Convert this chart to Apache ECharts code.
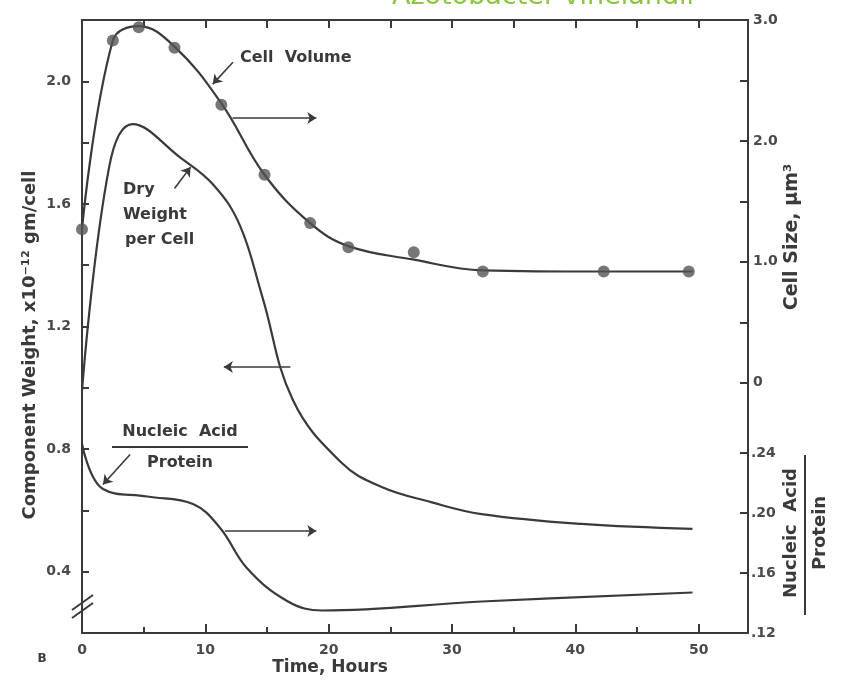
<!DOCTYPE html>
<html>
<head>
<meta charset="utf-8">
<script src="https://cdn.jsdelivr.net/npm/echarts@6/dist/echarts.min.js"></script>
<style>
html, body { margin: 0; padding: 0; background: #fff; }
#chart { width: 850px; height: 687px; }
</style>
</head>
<body>
<div id="chart"></div>
<script>
// ticks / labels
var xLabelValues = [0, 10, 20, 30, 40, 50]
var xMinorTicks = [5, 15, 25, 35, 45]
var leftLabelValues = [0.4, 0.8, 1.2, 1.6, 2.0]
var leftTickValues = [0.4, 0.6, 0.8, 1.0, 1.2, 1.4, 1.6, 1.8, 2.0]
var cellLabelValues = [0, 1, 2, 3]
var cellTickValues = [0, 0.5, 1, 1.5, 2, 2.5]
var ratioLabelValues = [0.12, 0.16, 0.20, 0.24]

// cell volume, µm3 (measured points)
var cellPoints = [
  [0, 1.27], [2.5, 2.83], [4.6, 2.94], [7.5, 2.77], [11.3, 2.30], [14.8, 1.72],
  [18.5, 1.32], [21.6, 1.12], [26.9, 1.08], [32.5, 0.92], [42.3, 0.92], [49.2, 0.92]
]
// cell volume fitted curve
var cellCurve = [
  [0, 1.27], [2.5, 2.83], [4.6, 2.95], [7.5, 2.78], [11.3, 2.31],
  [14.8, 1.72], [18.5, 1.32], [21.6, 1.13],
  [26.8, 1.02], [32.5, 0.93], [42.3, 0.92], [49.5, 0.92]
]
// dry weight per cell, x10^-12 gm/cell
var dryWeight = [
  [0, 0.99], [2.2, 1.72], [4.1, 1.86], [8.0, 1.75], [10.7, 1.66], [12.8, 1.53],
  [14.6, 1.30], [17.1, 0.96], [21.0, 0.757], [24.2, 0.678],
  [28.3, 0.627], [32.4, 0.588], [40.5, 0.556], [49.5, 0.54]
]
// nucleic acid / protein
var ratio = [
  [0, 0.246], [1.7, 0.216], [5.3, 0.211], [9.0, 0.206],
  [11.2, 0.190], [13.4, 0.163], [16.7, 0.141], [19.5, 0.135], [32.4, 0.141], [49.5, 0.147]
]

var ink = '#3a3a3a'
var font = 'DejaVu Sans'

var myChart = echarts.init(document.getElementById('chart'))

var arrowStyle = {
  silent: true,
  symbol: ['none', 'arrow'],
  symbolSize: 9,
  label: { show: false },
  lineStyle: { color: ink, width: 1.6, type: 'solid' }
}

var lineBase = {
  type: 'line',
  showSymbol: false,
  smooth: 0.4,
  lineStyle: { color: ink, width: 2.2 },
  z: 3
}

var tickLabel = { color: '#4a4a4a', fontFamily: font, fontWeight: 'bold', fontSize: 14 }
var axisLineStyle = { show: true, onZero: false, lineStyle: { color: ink, width: 2 } }

var option = {
  animation: false,
  backgroundColor: '#fff',
  grid: { left: 82, right: 102, top: 20, bottom: 54 },
  xAxis: [
    {
      type: 'value', position: 'bottom', min: 0, max: 54,
      axisLine: axisLineStyle,
      axisTick: { show: true, inside: true, length: 9, customValues: xLabelValues, lineStyle: { color: ink, width: 2 } },
      axisLabel: Object.assign({ customValues: xLabelValues, margin: 10 }, tickLabel),
      splitLine: { show: false }
    },
    {
      type: 'value', position: 'bottom', min: 0, max: 54,
      axisLine: { show: false, onZero: false },
      axisTick: { show: true, inside: true, length: 6, customValues: xMinorTicks, lineStyle: { color: ink, width: 2 } },
      axisLabel: { show: false },
      splitLine: { show: false }
    },
    {
      type: 'value', position: 'top', min: 0, max: 54,
      axisLine: axisLineStyle,
      axisTick: { show: true, inside: true, length: 8, customValues: xLabelValues.concat(xMinorTicks), lineStyle: { color: ink, width: 2 } },
      axisLabel: { show: false },
      splitLine: { show: false }
    }
  ],
  yAxis: [
    {
      type: 'value', position: 'left', min: 0.2, max: 2.2,
      axisLine: axisLineStyle,
      axisTick: { show: true, inside: true, length: 7, customValues: leftTickValues, lineStyle: { color: ink, width: 2 } },
      axisLabel: Object.assign({ customValues: leftLabelValues, margin: 11, formatter: function (v) { return v.toFixed(1) } }, tickLabel),
      splitLine: { show: false }
    },
    {
      type: 'value', position: 'right', min: -2.07, max: 3.0,
      axisLine: axisLineStyle,
      axisTick: { show: true, inside: true, length: 8, customValues: cellTickValues, lineStyle: { color: ink, width: 2 } },
      axisLabel: Object.assign({ customValues: cellLabelValues, margin: 5, formatter: function (v) { return v === 0 ? '0' : v.toFixed(1) } }, tickLabel),
      splitLine: { show: false }
    },
    {
      type: 'value', position: 'right', min: 0.12, max: 0.5287,
      axisLine: { show: false, onZero: false },
      axisTick: { show: true, inside: true, length: 8, customValues: ratioLabelValues.slice(1), lineStyle: { color: ink, width: 2 } },
      axisLabel: Object.assign({ customValues: ratioLabelValues, margin: 3, formatter: function (v) { return v.toFixed(2).replace(/^0/, '') } }, tickLabel),
      splitLine: { show: false }
    }
  ],
  series: [
    Object.assign({}, lineBase, {
      name: 'Cell Volume', yAxisIndex: 1, data: cellCurve,
      markLine: Object.assign({}, arrowStyle, {
        data: [
          [{ coord: [12.24, 2.65] }, { coord: [10.6, 2.47] }],
          [{ coord: [12.2, 2.19] }, { coord: [19.0, 2.19] }]
        ]
      })
    }),
    {
      name: 'Cell Volume points', type: 'scatter', yAxisIndex: 1, data: cellPoints,
      symbol: 'circle', symbolSize: 12, clip: false,
      itemStyle: { color: '#555' }, z: 4
    },
    Object.assign({}, lineBase, {
      name: 'Dry Weight per Cell', yAxisIndex: 0, data: dryWeight,
      markLine: Object.assign({}, arrowStyle, {
        data: [
          [{ coord: [7.5, 1.65] }, { coord: [8.8, 1.72] }],
          [{ coord: [16.9, 1.068] }, { coord: [11.5, 1.068] }]
        ]
      })
    }),
    Object.assign({}, lineBase, {
      name: 'Nucleic Acid / Protein', yAxisIndex: 2, data: ratio,
      markLine: Object.assign({}, arrowStyle, {
        data: [
          [{ coord: [3.9, 0.239] }, { coord: [1.7, 0.219] }],
          [{ coord: [11.6, 0.188] }, { coord: [19.0, 0.188] }]
        ]
      })
    })
  ],
  graphic: [
    // title cut at the top of the scan
    { type: 'text', x: 543, y: -3, style: { text: 'Azotobacter vinelandii', fill: '#8cc63f', font: '27px "DejaVu Sans"', align: 'center', verticalAlign: 'middle' } },
    { type: 'text', x: 240, y: 58, style: { text: 'Cell  Volume', fill: ink, font: 'bold 16px "DejaVu Sans"', verticalAlign: 'middle' } },
    { type: 'text', x: 123, y: 190, style: { text: 'Dry', fill: ink, font: 'bold 16px "DejaVu Sans"', verticalAlign: 'middle' } },
    { type: 'text', x: 123, y: 215, style: { text: 'Weight', fill: ink, font: 'bold 16px "DejaVu Sans"', verticalAlign: 'middle' } },
    { type: 'text', x: 125, y: 240, style: { text: 'per Cell', fill: ink, font: 'bold 16px "DejaVu Sans"', verticalAlign: 'middle' } },
    { type: 'text', x: 180, y: 432, style: { text: 'Nucleic  Acid', fill: ink, font: 'bold 16px "DejaVu Sans"', align: 'center', verticalAlign: 'middle' } },
    { type: 'line', shape: { x1: 112, y1: 447, x2: 248, y2: 447 }, style: { stroke: ink, lineWidth: 2 } },
    { type: 'text', x: 180, y: 463, style: { text: 'Protein', fill: ink, font: 'bold 16px "DejaVu Sans"', align: 'center', verticalAlign: 'middle' } },
    // axis break
    { type: 'line', shape: { x1: 72, y1: 610, x2: 93, y2: 595 }, style: { stroke: ink, lineWidth: 2 } },
    { type: 'line', shape: { x1: 72, y1: 618, x2: 93, y2: 603 }, style: { stroke: ink, lineWidth: 2 } },
    // axis titles
    { type: 'text', x: 30, y: 345, rotation: Math.PI / 2, style: { text: 'Component Weight, x10⁻¹² gm/cell', fill: ink, font: 'bold 18px "DejaVu Sans"', align: 'center', verticalAlign: 'middle' } },
    { type: 'text', x: 792, y: 237, rotation: Math.PI / 2, style: { text: 'Cell Size, µm³', fill: ink, font: 'bold 19px "DejaVu Sans"', align: 'center', verticalAlign: 'middle' } },
    { type: 'text', x: 791, y: 533, rotation: Math.PI / 2, style: { text: 'Nucleic  Acid', fill: ink, font: 'bold 18px "DejaVu Sans"', align: 'center', verticalAlign: 'middle' } },
    { type: 'line', shape: { x1: 805, y1: 455, x2: 805, y2: 615 }, style: { stroke: ink, lineWidth: 2 } },
    { type: 'text', x: 820, y: 533, rotation: Math.PI / 2, style: { text: 'Protein', fill: ink, font: 'bold 18px "DejaVu Sans"', align: 'center', verticalAlign: 'middle' } },
    { type: 'text', x: 330, y: 668, style: { text: 'Time, Hours', fill: ink, font: 'bold 17px "DejaVu Sans"', align: 'center', verticalAlign: 'middle' } },
    { type: 'text', x: 42, y: 659, style: { text: 'B', fill: ink, font: 'bold 12px "DejaVu Sans"', align: 'center', verticalAlign: 'middle' } }
  ]
}

myChart.setOption(option)
window.addEventListener('resize', () => {
  myChart.resize()
})
</script>
</body>
</html>
